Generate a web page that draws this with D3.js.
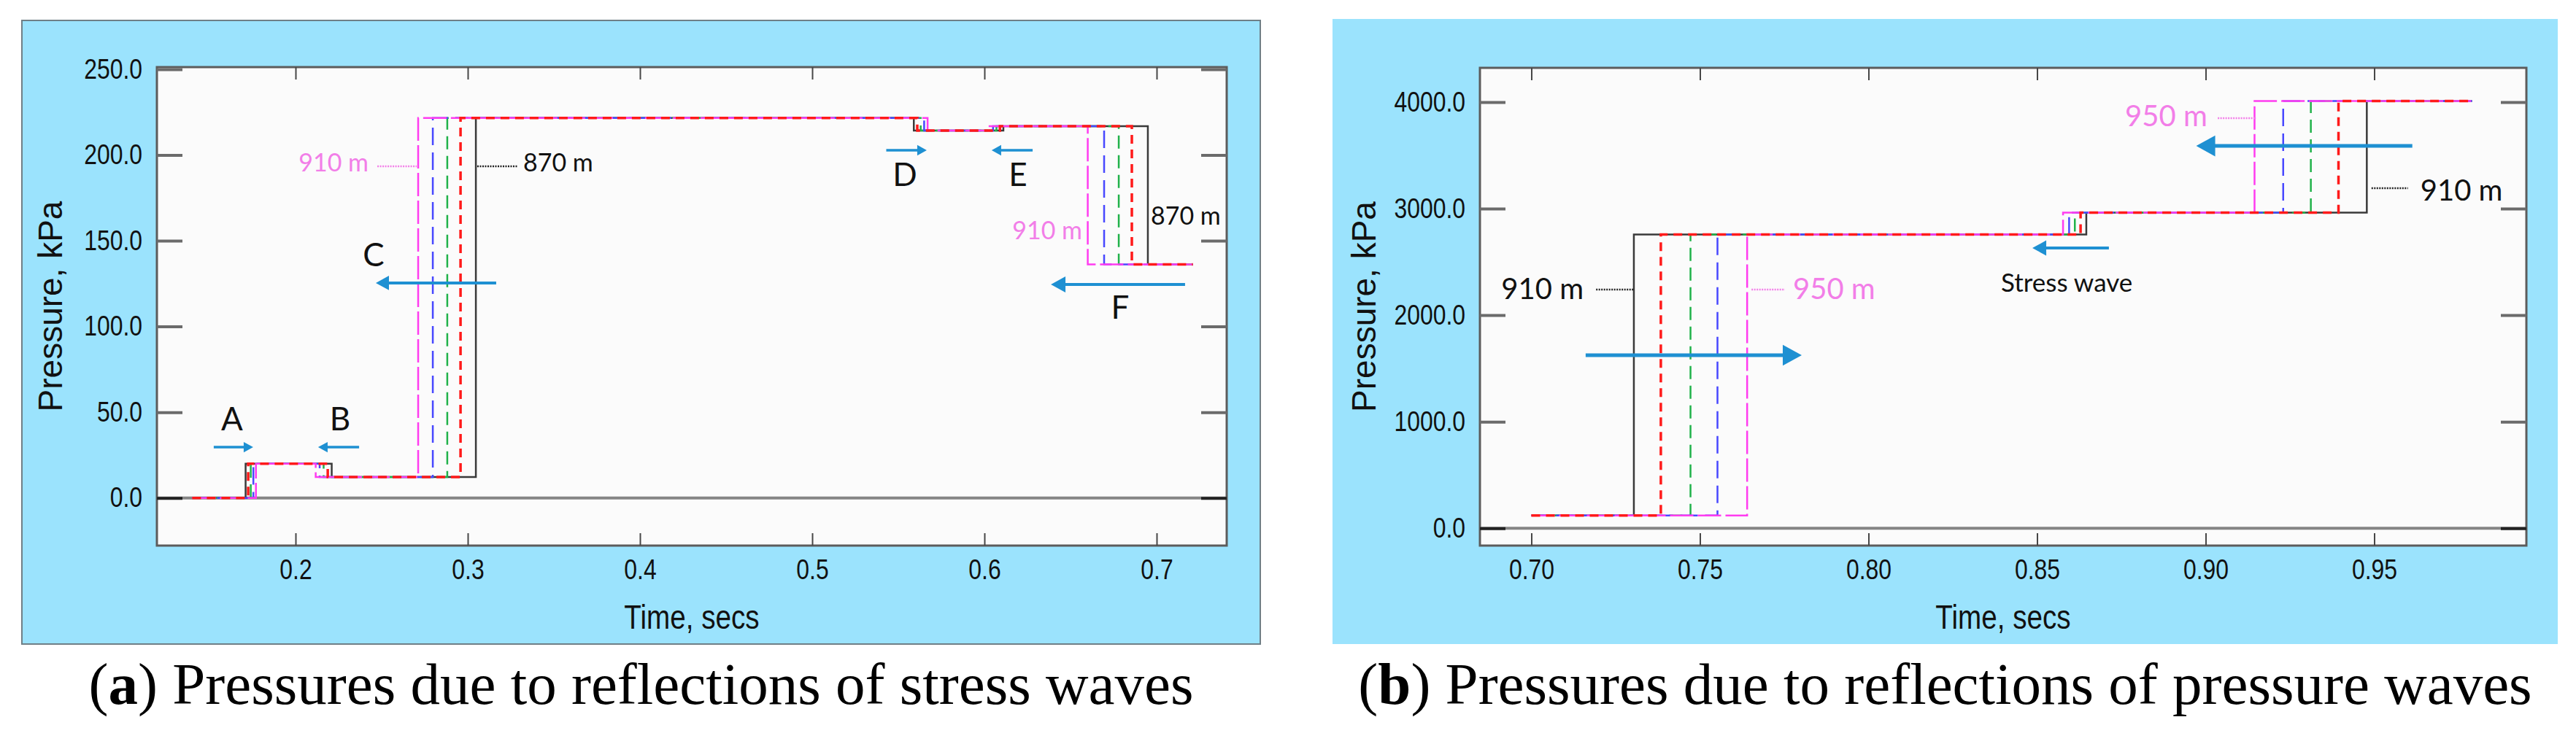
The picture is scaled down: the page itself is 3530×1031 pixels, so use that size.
<!DOCTYPE html>
<html>
<head>
<meta charset="utf-8">
<script src="https://cdn.jsdelivr.net/npm/d3@7"></script>
<style>
  body { margin: 0; background: #fff; }
</style>
</head>
<body>
<div id="chart"></div>
<script>
// ---------- data ----------
// panel (a): stress-wave reflections, gauges 870..910 m
const depthsA = ["870 m", "880 m", "890 m", "900 m", "910 m"];
const levelsA = [0.0, 20.0, 12.2, 221.6, 214.3, 216.8, 136.2];   // kPa, between the steps
const spanA = [0.140, 0.721];                                     // secs
const waveA = [0.1710, 0.1725, 0.1740, 0.1755, 0.1770];
const waveB = [0.2210, 0.2187, 0.2163, 0.2140, 0.2117];
const waveC = [0.3047, 0.2958, 0.2881, 0.2797, 0.2712];
const waveD = [0.5590, 0.5610, 0.5630, 0.5650, 0.5670];
const waveE = [0.6110, 0.6090, 0.6070, 0.6050, 0.6030];
const waveF = [0.6949, 0.6856, 0.6780, 0.6695, 0.6600];

// panel (b): pressure-wave reflections, gauges 910..950 m
const depthsB = ["910 m", "920 m", "930 m", "940 m", "950 m"];
const levelsB = [120, 2757, 2963, 4010];
const spanB = [0.700, 0.979];
const rise1B = [0.7304, 0.7384, 0.7472, 0.7552, 0.7640];
const stressB = [0.8646, 0.8629, 0.8612, 0.8595, 0.8577];
const rise2B = [0.9478, 0.9394, 0.9312, 0.9230, 0.9145];

const ticksAx = [0.2, 0.3, 0.4, 0.5, 0.6, 0.7];
const ticksAy = [0, 50, 100, 150, 200, 250];
const ticksBx = [0.70, 0.75, 0.80, 0.85, 0.90, 0.95];
const ticksBy = [0, 1000, 2000, 3000, 4000];

// ---------- styles ----------
const lineStyles = [
  { color: "#3a3a3a", width: 2.5, dash: null },
  { color: "#ff1a1a", width: 3.5, dash: "12,8" },
  { color: "#21b24a", width: 2.5, dash: "18,9" },
  { color: "#4848ff", width: 2.5, dash: "24,10" },
  { color: "#ff3cf0", width: 2.5, dash: "32,6" }
];
const drawOrder = [0, 2, 3, 4, 1];
const pink = "#f27ee8";
const arrowBlue = "#1e90d2";
const sans = "'Liberation Sans', Arial, sans-serif";
const annoFont = "Lato, 'Open Sans', sans-serif";
const squeeze = 0.84;   // the original axis text is a condensed Helvetica

const W = 3530, H = 1031;
const svg = d3.select("#chart").append("svg")
  .attr("width", W).attr("height", H)
  .attr("viewBox", `0 0 ${W} ${H}`);

svg.append("rect").attr("width", W).attr("height", H).attr("fill", "#fff");

function stepSeries(span, levels, waves, i) {
  const pts = [[span[0], levels[0]]];
  waves.forEach((w, k) => {
    pts.push([w[i], levels[k]]);
    pts.push([w[i], levels[k + 1]]);
  });
  pts.push([span[1], levels[levels.length - 1]]);
  return pts;
}

// squeeze a text element horizontally around its own anchor point
function condense(sel) {
  sel.each(function () {
    const t = d3.select(this);
    const x0 = +(t.attr("x") || 0);
    t.attr("x", 0).attr("transform", `translate(${x0},0) scale(${squeeze},1)`);
  });
}

function drawPanel(p) {
  const g = svg.append("g");

  g.append("rect")
    .attr("x", p.box[0]).attr("y", p.box[1])
    .attr("width", p.box[2] - p.box[0]).attr("height", p.box[3] - p.box[1])
    .attr("fill", "#9be3fd")
    .attr("stroke", p.border ? "#6f7f86" : "none")
    .attr("stroke-width", 2);

  const x = d3.scaleLinear().domain(p.xDomain).range([p.plot[0], p.plot[2]]);
  const y = d3.scaleLinear().domain(p.yDomain).range([p.plot[3], p.plot[1]]);

  g.append("rect")
    .attr("x", p.plot[0]).attr("y", p.plot[1])
    .attr("width", p.plot[2] - p.plot[0]).attr("height", p.plot[3] - p.plot[1])
    .attr("fill", "#fbfbfb");

  // zero line
  g.append("line")
    .attr("x1", p.plot[0]).attr("x2", p.plot[2])
    .attr("y1", y(0)).attr("y2", y(0))
    .attr("stroke", "#858585").attr("stroke-width", 4);

  const line = d3.line().x(d => x(d[0])).y(d => y(d[1]));
  drawOrder.forEach(i => {
    const s = lineStyles[i];
    g.append("path")
      .datum(stepSeries(p.span, p.levels, p.waves, i))
      .attr("d", line)
      .attr("fill", "none")
      .attr("stroke", s.color)
      .attr("stroke-width", s.width)
      .attr("stroke-dasharray", s.dash);
  });

  // frame
  g.append("rect")
    .attr("x", p.plot[0]).attr("y", p.plot[1])
    .attr("width", p.plot[2] - p.plot[0]).attr("height", p.plot[3] - p.plot[1])
    .attr("fill", "none").attr("stroke", "#5c5c5c").attr("stroke-width", 3);

  const bottom = g.append("g")
    .attr("transform", `translate(0,${p.plot[3]})`)
    .call(d3.axisBottom(x).tickValues(p.xTicks).tickSize(-17).tickPadding(19).tickFormat(d3.format(p.xFmt)));
  const top = g.append("g")
    .attr("transform", `translate(0,${p.plot[1]})`)
    .call(d3.axisTop(x).tickValues(p.xTicks).tickSize(-17).tickFormat(""));
  const left = g.append("g")
    .attr("transform", `translate(${p.plot[0]},0)`)
    .call(d3.axisLeft(y).tickValues(p.yTicks).tickSize(-35).tickPadding(20).tickFormat(d3.format(".1f")));
  const right = g.append("g")
    .attr("transform", `translate(${p.plot[2]},0)`)
    .call(d3.axisRight(y).tickValues(p.yTicks).tickSize(-35).tickFormat(""));

  [bottom, top, left, right].forEach(a => a.select(".domain").remove());
  [bottom, top].forEach(a => a.selectAll(".tick line").attr("stroke", "#474747").attr("stroke-width", 2));
  [left, right].forEach(a => a.selectAll(".tick line")
    .attr("stroke", d => d === 0 ? "#222" : "#6b6b6b").attr("stroke-width", 4));
  [bottom, left].forEach(a => a.selectAll(".tick text")
    .attr("font-family", sans).attr("font-size", 38).attr("fill", "#111")
    .call(condense));

  // axis titles
  g.append("text")
    .attr("x", (p.plot[0] + p.plot[2]) / 2).attr("y", p.plot[3] + 114)
    .attr("text-anchor", "middle")
    .attr("font-family", sans).attr("font-size", 46).attr("fill", "#111")
    .text("Time, secs")
    .call(condense);
  g.append("text")
    .attr("transform", `translate(${p.yTitleX},${(p.plot[1] + p.plot[3]) / 2}) rotate(-90)`)
    .attr("text-anchor", "middle").attr("dy", "0.35em")
    .attr("font-family", sans).attr("font-size", 46).attr("fill", "#111")
    .text("Pressure, kPa");

  // annotations
  p.leaders.forEach(d => {
    g.append("line")
      .attr("x1", x(d.t0)).attr("x2", x(d.t1)).attr("y1", y(d.p)).attr("y2", y(d.p))
      .attr("stroke", d.color).attr("stroke-width", 2.5).attr("stroke-dasharray", "2,1.5");
  });
  p.labels.forEach(d => {
    g.append("text")
      .attr("x", x(d.t)).attr("y", y(d.p))
      .attr("text-anchor", d.anchor || "middle")
      .attr("font-family", annoFont).attr("font-size", d.size)
      .attr("fill", d.color || "#111")
      .text(d.text);
  });
  p.arrows.forEach(d => {
    const x0 = x(d.t0), x1 = x(d.t1), yy = y(d.p);
    const dir = Math.sign(x1 - x0);
    g.append("line")
      .attr("x1", x0).attr("x2", x1 - dir * d.head * 0.6).attr("y1", yy).attr("y2", yy)
      .attr("stroke", arrowBlue).attr("stroke-width", d.w);
    g.append("path")
      .attr("d", `M${x1},${yy} L${x1 - dir * d.head},${yy - d.head * 0.55} L${x1 - dir * d.head},${yy + d.head * 0.55} Z`)
      .attr("fill", arrowBlue);
  });

  // caption
  const cap = g.append("text")
    .attr("x", (p.box[0] + p.box[2]) / 2).attr("y", 965)
    .attr("text-anchor", "middle")
    .attr("font-family", "'Liberation Serif', 'Times New Roman', serif")
    .attr("font-size", 81).attr("fill", "#000");
  cap.append("tspan").text("(");
  cap.append("tspan").attr("font-weight", "bold").text(p.letter);
  cap.append("tspan").text(") " + p.caption);
}

drawPanel({
  box: [30, 28, 1727, 883], border: true,
  plot: [215, 92, 1681, 748],
  xDomain: [0.11949, 0.74068], yDomain: [-27.8, 251.3],
  xTicks: ticksAx, yTicks: ticksAy, xFmt: ".1f",
  yTitleX: 69,
  span: spanA, levels: levelsA, waves: [waveA, waveB, waveC, waveD, waveE, waveF],
  leaders: [
    { t0: 0.2475, t1: 0.2703, p: 193.4, color: pink },
    { t0: 0.3055, t1: 0.3288, p: 193.4, color: "#222" }
  ],
  labels: [
    { text: depthsA[4], t: 0.2424, p: 190.4, anchor: "end", size: 34, color: pink },
    { text: depthsA[0], t: 0.3322, p: 190.4, anchor: "start", size: 34 },
    { text: depthsA[4], t: 0.6568, p: 150.9, anchor: "end", size: 34, color: pink },
    { text: depthsA[0], t: 0.6966, p: 159.4, anchor: "start", size: 34 },
    { text: "A", t: 0.1631, p: 39.4, size: 44 },
    { text: "B", t: 0.2258, p: 39.4, size: 44 },
    { text: "C", t: 0.2453, p: 135.2, size: 44 },
    { text: "D", t: 0.5538, p: 181.9, size: 44 },
    { text: "E", t: 0.6195, p: 181.9, size: 44 },
    { text: "F", t: 0.6788, p: 104.5, size: 44 }
  ],
  arrows: [
    { t0: 0.1525, t1: 0.1754, p: 29.6, head: 13, w: 3.5 },
    { t0: 0.2369, t1: 0.2131, p: 29.6, head: 13, w: 3.5 },
    { t0: 0.3165, t1: 0.2466, p: 125.4, head: 18, w: 4 },
    { t0: 0.5430, t1: 0.5665, p: 202.8, head: 13, w: 3.5 },
    { t0: 0.6280, t1: 0.6042, p: 202.8, head: 13, w: 3.5 },
    { t0: 0.7165, t1: 0.6386, p: 124.5, head: 20, w: 4 }
  ],
  letter: "a", caption: "Pressures due to reflections of stress waves"
});

drawPanel({
  box: [1826, 26, 3505, 883], border: false,
  plot: [2028, 93, 3462, 748],
  xDomain: [0.68474, 0.99513], yDomain: [-162, 4321],
  xTicks: ticksBx, yTicks: ticksBy, xFmt: ".2f",
  yTitleX: 1869,
  span: spanB, levels: levelsB, waves: [rise1B, stressB, rise2B],
  leaders: [
    { t0: 0.7192, t1: 0.7304, p: 2240, color: "#222" },
    { t0: 0.7653, t1: 0.7752, p: 2240, color: pink },
    { t0: 0.9036, t1: 0.9150, p: 3848, color: pink },
    { t0: 0.9492, t1: 0.9600, p: 3192, color: "#222" }
  ],
  labels: [
    { text: depthsB[0], t: 0.7155, p: 2151, anchor: "end", size: 40 },
    { text: depthsB[4], t: 0.7776, p: 2151, anchor: "start", size: 40, color: pink },
    { text: depthsB[4], t: 0.9005, p: 3773, anchor: "end", size: 40, color: pink },
    { text: depthsB[0], t: 0.9637, p: 3075, anchor: "start", size: 40 },
    { text: "Stress wave", t: 0.8393, p: 2220, anchor: "start", size: 35 }
  ],
  arrows: [
    { t0: 0.7161, t1: 0.7802, p: 1624, head: 26, w: 5 },
    { t0: 0.9613, t1: 0.8972, p: 3588, head: 26, w: 5 },
    { t0: 0.8713, t1: 0.8486, p: 2630, head: 19, w: 4 }
  ],
  letter: "b", caption: "Pressures due to reflections of pressure waves"
});
</script>
</body>
</html>
